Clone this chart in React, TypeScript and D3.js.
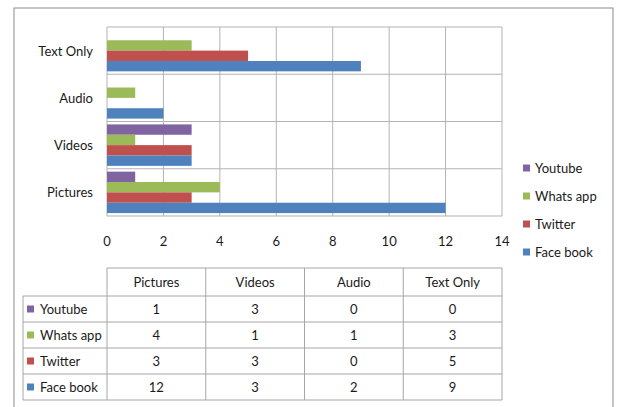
import React from "react";
import * as d3 from "d3";

const categories = ["Pictures", "Videos", "Audio", "Text Only"];
const seriesNames = ["Face book", "Twitter", "Whats app", "Youtube"];
const faceBook = [12, 3, 2, 9];
const twitter = [3, 3, 0, 5];
const whatsApp = [4, 1, 1, 3];
const youtube = [1, 3, 0, 0];
const xTicks = [0, 2, 4, 6, 8, 10, 12, 14];
const seriesColors = ["#4F81BD", "#C0504D", "#9BBB59", "#8064A2"];

const seriesValues = [faceBook, twitter, whatsApp, youtube];

export default function App() {
  const W = 619, H = 407;
  const plotL = 107, plotR = 502, plotT = 27, plotB = 216;
  const font = "Lato, 'Open Sans', sans-serif";
  const x = d3.scaleLinear().domain([0, 14]).range([plotL, plotR]);
  const y = d3.scaleBand<string>().domain([...categories].reverse()).range([plotT, plotB]).padding(0);
  const topDown = [...seriesNames].reverse();
  const inner = d3.scaleBand<string>().domain(topDown).range([0, y.bandwidth()]).paddingInner(0).paddingOuter(0.28);
  const color = d3.scaleOrdinal<string, string>().domain(seriesNames).range(seriesColors);
  const valueOf = (s: string, ci: number) => seriesValues[seriesNames.indexOf(s)][ci];

  const boundaries = [plotT, ...categories.map((c) => (y(c) as number) + y.bandwidth())];
  const colW = (plotR - plotL) / categories.length;
  const headerT = 268, headerB = 296, rowH = 26;
  const tableL = 23;
  const rowsBottom = headerB + rowH * topDown.length;
  const gridC = "#b3b3b3";
  const textC = "#1a1a1a";

  return (
    <svg width={W} height={H} style={{ position: "absolute", left: 0, top: 0, background: "#fff" }} fontFamily={font}>
      <rect x={14} y={8} width={599} height={420} fill="#fff" stroke="#8c8c8c" strokeWidth={1} />
      {/* vertical gridlines */}
      {xTicks.map((t) => (
        <line key={"v" + t} x1={x(t)} x2={x(t)} y1={plotT} y2={plotB} stroke={gridC} strokeWidth={1} />
      ))}
      {boundaries.map((b, i) => (
        <line key={"h" + i} x1={plotL} x2={plotR} y1={b} y2={b} stroke={gridC} strokeWidth={1} />
      ))}
      {/* bars */}
      {categories.map((c, ci) =>
        topDown.map((s) => {
          const v = valueOf(s, ci);
          if (v === 0) return null;
          return (
            <rect
              key={c + s}
              x={x(0)}
              y={(y(c) as number) + (inner(s) as number)}
              width={x(v) - x(0)}
              height={inner.bandwidth()}
              fill={color(s)}
            />
          );
        })
      )}
      {/* category labels */}
      {categories.map((c) => (
        <text key={c} x={93} y={(y(c) as number) + y.bandwidth() / 2} textAnchor="end" dominantBaseline="central" fontSize={13} fill={textC}>
          {c}
        </text>
      ))}
      {/* x tick labels */}
      {xTicks.map((t) => (
        <text key={"t" + t} x={x(t)} y={241} textAnchor="middle" dominantBaseline="central" fontSize={13} fill={textC}>
          {t}
        </text>
      ))}
      {/* legend */}
      {topDown.map((s, i) => (
        <g key={"lg" + s} transform={`translate(523, ${168 + i * 28})`}>
          <rect x={0} y={-3.5} width={7} height={7} fill={color(s)} />
          <text x={12} y={0} dominantBaseline="central" fontSize={13} fill={textC}>{s}</text>
        </g>
      ))}
      {/* data table */}
      <g stroke="#a6a6a6" strokeWidth={1} fill="none">
        <line x1={plotL} x2={plotR} y1={headerT} y2={headerT} />
        {d3.range(topDown.length + 1).map((i) => (
          <line key={"tr" + i} x1={tableL} x2={plotR} y1={headerB + i * rowH} y2={headerB + i * rowH} />
        ))}
        <line x1={tableL} x2={tableL} y1={headerB} y2={rowsBottom} />
        {d3.range(categories.length + 1).map((i) => (
          <line key={"tc" + i} x1={plotL + i * colW} x2={plotL + i * colW} y1={headerT} y2={rowsBottom} />
        ))}
      </g>
      {categories.map((c, ci) => (
        <text key={"th" + c} x={plotL + (ci + 0.5) * colW} y={(headerT + headerB) / 2} textAnchor="middle" dominantBaseline="central" fontSize={13} fill={textC}>
          {c}
        </text>
      ))}
      {topDown.map((s, ri) => (
        <g key={"row" + s}>
          <rect x={27} y={headerB + ri * rowH + rowH / 2 - 3.5} width={7} height={7} fill={color(s)} />
          <text x={40} y={headerB + ri * rowH + rowH / 2} dominantBaseline="central" fontSize={13} fill={textC}>{s}</text>
          {categories.map((c, ci) => (
            <text key={c} x={plotL + (ci + 0.5) * colW} y={headerB + ri * rowH + rowH / 2} textAnchor="middle" dominantBaseline="central" fontSize={13} fill={textC}>
              {valueOf(s, ci)}
            </text>
          ))}
        </g>
      ))}
    </svg>
  );
}
